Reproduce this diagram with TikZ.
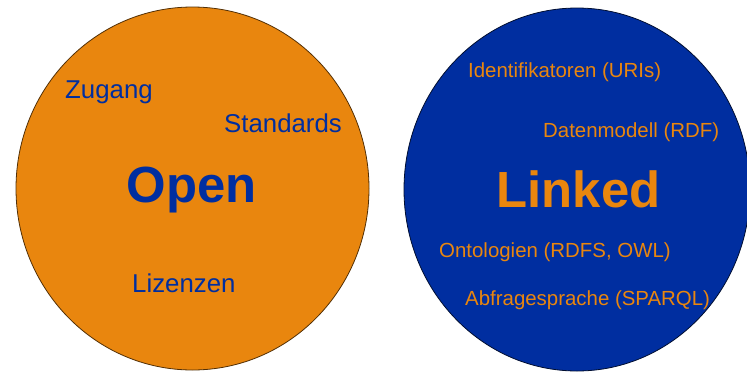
\documentclass[tikz,border=0pt]{standalone}
\usepackage{fontspec}
\setmainfont{Liberation Sans}
\usepackage{tikz}

\definecolor{lodorange}{RGB}{233,134,14}
\definecolor{lodblue}{RGB}{0,46,160}

\begin{document}
\begin{tikzpicture}[x=1bp, y=-1bp,
        bigword/.style={inner sep=0pt, anchor=base, font=\fontsize{51}{60}\selectfont\bfseries},
        openword/.style={inner sep=0pt, anchor=base west, text=lodblue, font=\fontsize{25.9}{30}\selectfont},
        linkword/.style={inner sep=0pt, anchor=base west, text=lodorange, font=\fontsize{20.5}{24}\selectfont}]
            \useasboundingbox (0, 0) rectangle (747, 371);
            \clip (0, 0) rectangle (747, 371);
            \filldraw[fill=lodorange, draw=black!65!lodorange, line width=0.8bp] (192.5, 188.5) ellipse [x radius=176.5, y radius=181.5];
            \filldraw[fill=lodblue, draw=black!70!lodblue, line width=0.8bp] (577, 189.5) ellipse [x radius=173, y radius=181.5];
            \node[bigword, text=lodblue] (open) at (191.5, 202) {Open};
            \node[openword] (zugang) at (65, 98) {Zugang};
            \node[openword] (standards) at (224, 132) {Standards};
            \node[openword] (lizenzen) at (132, 292) {Lizenzen};
            \node[bigword, text=lodorange] (linked) at (578.5, 207) {Linked};
            \node[linkword] (uris) at (468, 77) {Identifikatoren (URIs)};
            \node[linkword] (rdf) at (543, 137) {Datenmodell (RDF)};
            \node[linkword] (owl) at (439, 257) {Ontologien (RDFS, OWL)};
            \node[linkword] (sparql) at (465, 305) {Abfragesprache (SPARQL)};
    \end{tikzpicture}
\end{document}
